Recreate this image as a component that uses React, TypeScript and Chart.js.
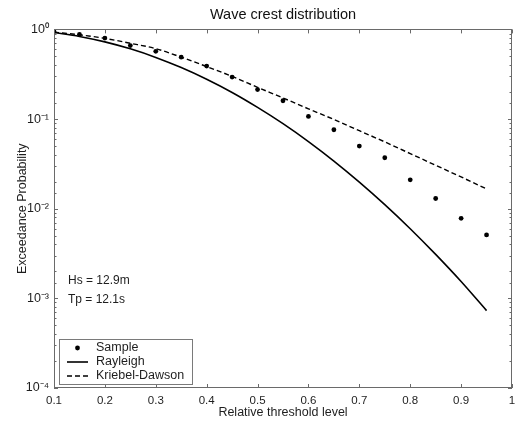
import React, { useEffect, useRef } from 'react';
import { Chart, registerables } from 'chart.js';

Chart.register(...registerables);

// ---- data ----
const thresholdLevels = [0.1, 0.15, 0.2, 0.25, 0.3, 0.35, 0.4, 0.45, 0.5, 0.55, 0.6, 0.65, 0.7, 0.75, 0.8, 0.85, 0.9, 0.95];
const sampleProb = [0.95, 0.88, 0.8, 0.66, 0.57, 0.49, 0.39, 0.294, 0.213, 0.16, 0.107, 0.076, 0.05, 0.037, 0.021, 0.013, 0.0078, 0.0051];
const rayleighProb = [0.923, 0.835, 0.726, 0.607, 0.487, 0.375, 0.278, 0.198, 0.135, 0.0889, 0.0561, 0.034, 0.0198, 0.0111, 0.00598, 0.00309, 0.00154, 0.00073];
const kriebelDawsonProb = [0.933, 0.871, 0.794, 0.7, 0.61, 0.49, 0.385, 0.299, 0.226, 0.172, 0.13, 0.0989, 0.0741, 0.0556, 0.0412, 0.0305, 0.0226, 0.0166];
const seriesNames = ['Sample', 'Rayleigh', 'Kriebel-Dawson'];
const chartTitle = 'Wave crest distribution';
const xAxisTitle = 'Relative threshold level';
const yAxisTitle = 'Exceedance Probability';
const noteLines = ['Hs = 12.9m', 'Tp = 12.1s'];
const xMin = 0.1;
const xMax = 1;
const xStep = 0.1;
const yMin = 1e-4;
const yMax = 1;

const FONT = "'Liberation Sans', Arial, Helvetica, sans-serif";
const SUP: Record<string, string> = { '0': '⁰', '1': '¹', '2': '²', '3': '³', '4': '⁴', '5': '⁵', '-': '⁻' };
const toSup = (s: string) => s.split('').map((c) => SUP[c] ?? c).join('');
const isDecade = (v: number) => {
  const e = Math.log10(v);
  return Math.abs(e - Math.round(e)) < 1e-6;
};

const framePlugin = {
  id: 'matlabFrame',
  afterDatasetsDraw(chart: any) {
    const { ctx, chartArea: a, scales } = chart;
    ctx.save();
    ctx.strokeStyle = '#6a6a6a';
    ctx.lineWidth = 1;
    const seg = (x1: number, y1: number, x2: number, y2: number) => {
      ctx.beginPath();
      ctx.moveTo(x1, y1);
      ctx.lineTo(x2, y2);
      ctx.stroke();
    };
    scales.x.ticks.forEach((t: any) => {
      const px = Math.round(scales.x.getPixelForValue(t.value)) + 0.5;
      seg(px, a.top, px, a.top + 4);
      seg(px, a.bottom, px, a.bottom - 4);
    });
    scales.y.ticks.forEach((t: any) => {
      const py = Math.round(scales.y.getPixelForValue(t.value)) + 0.5;
      const len = isDecade(t.value) ? 4 : 2.5;
      seg(a.left, py, a.left + len, py);
      seg(a.right, py, a.right - len, py);
    });
    ctx.strokeRect(Math.round(a.left) + 0.5, Math.round(a.top) + 0.5, Math.round(a.width) - 1, Math.round(a.height) - 1);
    ctx.restore();
  },
  afterDraw(chart: any) {
    const { ctx, chartArea: a } = chart;
    ctx.save();
    // annotation text
    ctx.fillStyle = '#1e1e1e';
    ctx.font = `12px ${FONT}`;
    ctx.textAlign = 'left';
    ctx.textBaseline = 'middle';
    noteLines.forEach((txt, i) => ctx.fillText(txt, a.left + 14, 281 + i * 19));

    // legend
    const bx = a.left + 5;
    const bw = 133;
    const bh = 45;
    const by = a.bottom - 4 - bh;
    ctx.fillStyle = '#ffffff';
    ctx.fillRect(bx, by, bw, bh);
    ctx.strokeStyle = '#7a7a7a';
    ctx.lineWidth = 1;
    ctx.strokeRect(Math.round(bx) + 0.5, Math.round(by) + 0.5, bw, bh);
    chart.data.datasets.forEach((ds: any, i: number) => {
      const cy = by + 9 + i * 14;
      const x1 = bx + 8;
      const x2 = bx + 29;
      if (ds.showLine === false) {
        ctx.fillStyle = ds.pointBackgroundColor;
        ctx.beginPath();
        ctx.arc((x1 + x2) / 2, cy, ds.pointRadius, 0, Math.PI * 2);
        ctx.fill();
      } else {
        ctx.strokeStyle = ds.borderColor;
        ctx.lineWidth = ds.borderWidth;
        ctx.setLineDash(ds.borderDash || []);
        ctx.beginPath();
        ctx.moveTo(x1, cy);
        ctx.lineTo(x2, cy);
        ctx.stroke();
        ctx.setLineDash([]);
      }
      ctx.fillStyle = '#1e1e1e';
      ctx.font = `12.5px ${FONT}`;
      ctx.textAlign = 'left';
      ctx.textBaseline = 'middle';
      ctx.fillText(ds.label, bx + 37, cy);
    });
    ctx.restore();
  },
};

export default function App() {
  const canvasRef = useRef<HTMLCanvasElement | null>(null);

  useEffect(() => {
    if (!canvasRef.current) return;
    const pts = (ys: number[]) => thresholdLevels.map((x, i) => ({ x, y: ys[i] }));
    const chart = new Chart(canvasRef.current, {
      type: 'line',
      data: {
        datasets: [
          {
            label: seriesNames[0],
            data: pts(sampleProb),
            showLine: false,
            pointRadius: 2.4,
            pointStyle: 'circle',
            pointBackgroundColor: '#000000',
            pointBorderWidth: 0,
            borderColor: '#000000',
          },
          {
            label: seriesNames[1],
            data: pts(rayleighProb),
            borderColor: '#000000',
            borderWidth: 1.6,
            pointRadius: 0,
            cubicInterpolationMode: 'monotone',
            fill: false,
          },
          {
            label: seriesNames[2],
            data: pts(kriebelDawsonProb),
            borderColor: '#000000',
            borderWidth: 1.4,
            borderDash: [5, 3],
            pointRadius: 0,
            cubicInterpolationMode: 'monotone',
            fill: false,
          },
        ],
      } as any,
      options: {
        animation: false,
        responsive: false,
        devicePixelRatio: 1,
        layout: { padding: 0 },
        plugins: {
          legend: { display: false },
          tooltip: { enabled: false },
          title: {
            display: true,
            fullSize: false,
            text: chartTitle,
            color: '#111111',
            font: { family: FONT, size: 14.5, weight: 'normal' },
            padding: { top: 6, bottom: 6 },
          },
        },
        scales: {
          x: {
            type: 'linear',
            min: xMin,
            max: xMax,
            grid: { display: false, drawTicks: false },
            border: { display: false },
            ticks: {
              stepSize: xStep,
              padding: 6,
              color: '#1e1e1e',
              font: { family: FONT, size: 11.5 },
              callback: (v: any) => String(Number(Number(v).toFixed(1))),
              maxRotation: 0,
              autoSkip: false,
            },
            title: {
              display: true,
              text: xAxisTitle,
              color: '#1e1e1e',
              font: { family: FONT, size: 12.5 },
              padding: { top: 0, bottom: 1 },
            },
            afterFit: (s: any) => {
              s.height = 33;
              s.paddingLeft = 0;
              s.paddingRight = 7;
            },
          },
          y: {
            type: 'logarithmic',
            min: yMin,
            max: yMax,
            grid: { display: false, drawTicks: false },
            border: { display: false },
            ticks: {
              padding: 5,
              autoSkip: false,
              color: '#1e1e1e',
              font: { family: FONT, size: 12.5 },
              callback: (v: any) => (isDecade(Number(v)) ? '10' + toSup(String(Math.round(Math.log10(Number(v))))) : ''),
            },
            title: {
              display: true,
              text: yAxisTitle,
              color: '#1e1e1e',
              font: { family: FONT, size: 12.5 },
              padding: { top: 15, bottom: 0 },
            },
            afterFit: (s: any) => {
              s.width = 54;
            },
          },
        },
      } as any,
      plugins: [framePlugin],
    });
    return () => chart.destroy();
  }, []);

  return (
    <div style={{ position: 'fixed', left: 0, top: 0, width: 519, height: 421, background: '#ffffff' }}>
      <canvas ref={canvasRef} width={519} height={421} />
    </div>
  );
}
